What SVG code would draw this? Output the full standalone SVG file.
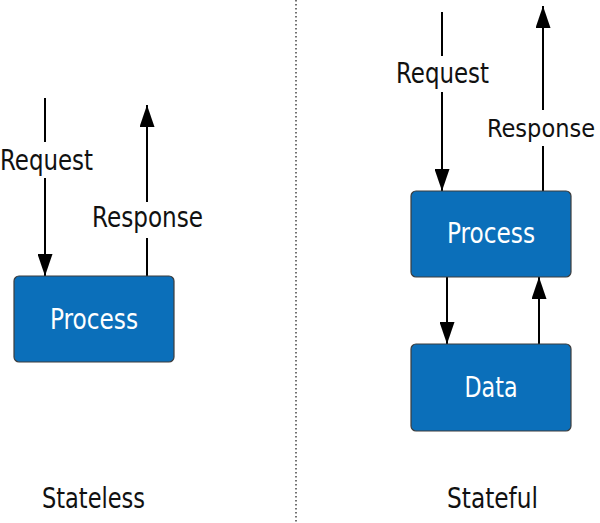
<svg xmlns="http://www.w3.org/2000/svg" width="600" height="523" viewBox="0 0 600 523">
<style>
.box{fill:#0b6fba;stroke:#3c3c3c;stroke-width:1.2}
.lbl{font-family:"Liberation Sans Narrow","DejaVu Sans Condensed","Liberation Sans",sans-serif;font-size:28px;fill:#111}
.in{font-family:"Liberation Sans Narrow","DejaVu Sans Condensed","Liberation Sans",sans-serif;font-size:28px;fill:#fff;text-anchor:middle}
.ln{stroke:#000;stroke-width:2;fill:none}
.gap{fill:#fff}
</style>
<defs>
<marker id="ah" viewBox="0 0 22 15" refX="22" refY="7.5" markerWidth="22" markerHeight="15" markerUnits="userSpaceOnUse" orient="auto">
<path d="M0,0 L22,7.5 L0,15 Z" fill="#000"/>
</marker>
</defs>
<rect width="600" height="523" fill="#fff"/>
<line x1="296" y1="0" x2="296" y2="523" stroke="#444" stroke-width="1.5" stroke-dasharray="1.5 2.5"/>
<g id="connectors">
<line class="ln" x1="45" y1="98" x2="45" y2="276" marker-end="url(#ah)"/>
<line class="ln" x1="147" y1="276" x2="147" y2="105" marker-end="url(#ah)"/>
<line class="ln" x1="442" y1="12" x2="442" y2="191" marker-end="url(#ah)"/>
<line class="ln" x1="543" y1="191" x2="543" y2="6" marker-end="url(#ah)"/>
<line class="ln" x1="447" y1="277" x2="447" y2="344" marker-end="url(#ah)"/>
<line class="ln" x1="539" y1="344" x2="539" y2="277" marker-end="url(#ah)"/>
<rect class="gap" x="0" y="142" width="96" height="36"/>
<text class="lbl" x="0" y="170" textLength="93" lengthAdjust="spacingAndGlyphs">Request</text>
<rect class="gap" x="90" y="202" width="116" height="36"/>
<text class="lbl" x="92" y="227" textLength="111" lengthAdjust="spacingAndGlyphs">Response</text>
<rect class="gap" x="394" y="56" width="96" height="36"/>
<text class="lbl" x="396" y="83" textLength="93" lengthAdjust="spacingAndGlyphs">Request</text>
<rect class="gap" x="486" y="110" width="114" height="36"/>
<text class="lbl" x="487" y="137" style="font-size:25.5px" textLength="108" lengthAdjust="spacingAndGlyphs">Response</text>
</g>
<g id="stateless-process">
<rect class="box" x="14" y="276" width="160" height="86" rx="5"/>
<text class="in" x="94" y="329" textLength="88" lengthAdjust="spacingAndGlyphs">Process</text>
</g>
<g id="stateful-process">
<rect class="box" x="411" y="191" width="160" height="86" rx="5"/>
<text class="in" x="491" y="243" textLength="88" lengthAdjust="spacingAndGlyphs">Process</text>
</g>
<g id="stateful-data">
<rect class="box" x="411" y="344" width="160" height="87" rx="5"/>
<text class="in" x="491" y="397" textLength="53" lengthAdjust="spacingAndGlyphs">Data</text>
</g>
<text class="lbl" x="93.5" y="508" text-anchor="middle" textLength="103" lengthAdjust="spacingAndGlyphs">Stateless</text>
<text class="lbl" x="492.5" y="508" text-anchor="middle" textLength="91" lengthAdjust="spacingAndGlyphs">Stateful</text>
</svg>
